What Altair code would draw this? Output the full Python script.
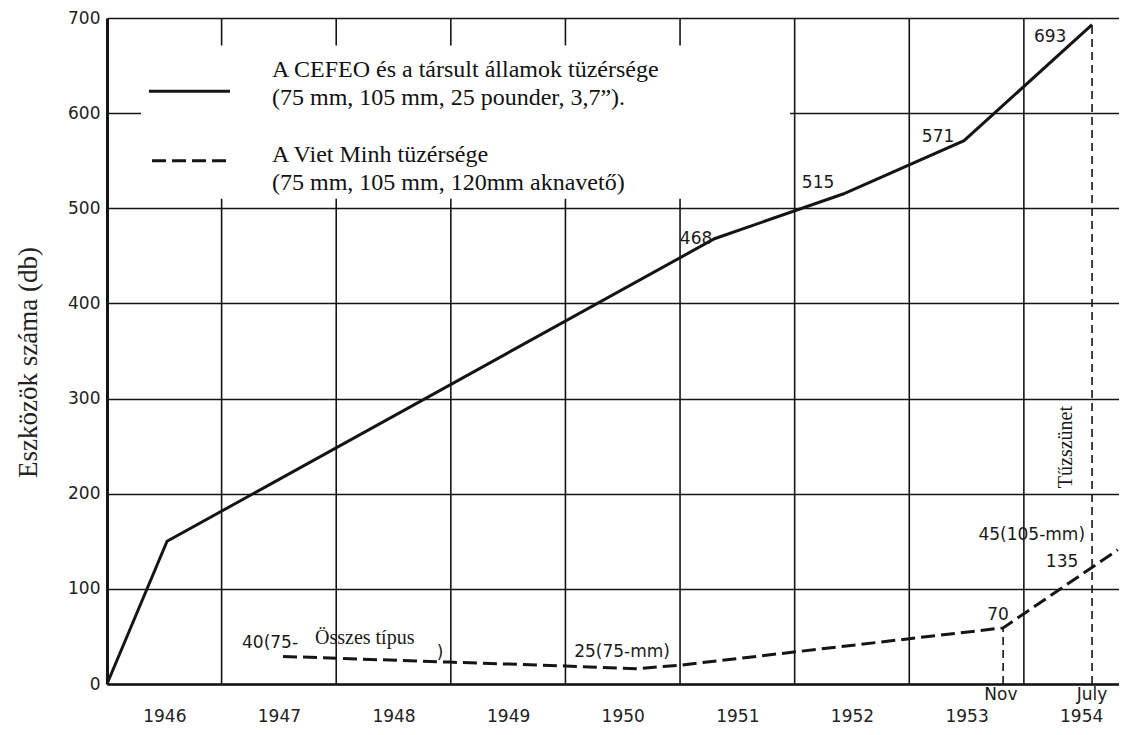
import altair as alt
import pandas as pd

# ---------------- data ----------------
years = [1946, 1947, 1948, 1949, 1950, 1951, 1952, 1953, 1954]
year_bounds = [1947, 1948, 1949, 1950, 1951, 1952, 1953, 1954]
y_ticks = [0, 100, 200, 300, 400, 500, 600, 700]

cefeo_x = [1946.0, 1946.524, 1951.30, 1952.422, 1953.478, 1954.595]
cefeo_y = [0, 150, 468, 515, 571, 693]

vm_x = [1947.536, 1948.984, 1949.997, 1950.625, 1951.017, 1953.819, 1954.82]
vm_y = [29, 23, 19, 16, 20, 59, 141]

# dashed reference verticals (Nov 1953, July 1954)
marker_x = [1953.819, 1954.595]
marker_top = [59, 693]

# annotations
sans_text = ["693", "571", "515", "468", "25(75-mm)", "70", "135", "Nov", "July", ")"]
sans_x = [1954.229, 1953.251, 1952.204, 1951.14, 1950.494, 1953.775, 1954.333, 1953.80, 1954.595, 1948.906]
sans_y = [680, 575, 527, 468, 34, 72, 128, -12, -12, 33]

left_sans_text = ["40(75-"]
left_sans_x = [1947.178]
left_sans_y = [43]

right_sans_text = ["45(105-mm)"]
right_sans_x = [1954.534]
right_sans_y = [157]

serif_note_text = ["Összes típus"]
serif_note_x = [1947.815]
serif_note_y = [48]

cease_text = ["Tűzszünet"]
cease_x = [1954.368]
cease_y = [249]

legend_text = [
    "A CEFEO és a társult államok tüzérsége",
    "(75 mm, 105 mm, 25 pounder, 3,7”).",
    "A Viet Minh tüzérsége",
    "(75 mm, 105 mm, 120mm aknavető)",
]
legend_text_x = [1947.44, 1947.44, 1947.44, 1947.44]
legend_text_y = [645, 616, 556, 527]

legend_solid_x = [1946.366, 1947.073]
legend_solid_y = [623, 623]
legend_dash_x = [1946.393, 1947.073]
legend_dash_y = [550, 550]

legend_box = {"x1": 1946.297, "x2": 1951.96, "y1": 510, "y2": 671}

# ---------------- styling ----------------
INK = "#151515"
SANS = "DejaVu Sans"
SERIF = "Liberation Serif"

XS = alt.Scale(domain=[1946, 1954.83], nice=False, zero=False)
YS = alt.Scale(domain=[0, 700], nice=False, zero=False)

XAX = alt.Axis(
    values=[y + 0.5 for y in years],
    labelExpr="floor(datum.value)",
    title=None,
    grid=False,
    ticks=False,
    domain=True,
    domainColor=INK,
    domainWidth=2.6,
    labelFont=SANS,
    labelFontSize=17,
    labelColor="#222",
    labelPadding=24,
)

YAX = alt.Axis(
    values=y_ticks,
    title="Eszközök száma (db)",
    titleFont=SERIF,
    titleFontSize=27,
    titleFontWeight="normal",
    titleColor="#222",
    titleAngle=270,
    titleAlign="center",
    titleBaseline="middle",
    titleX=-79,
    titleY=344,
    grid=True,
    gridColor=INK,
    gridWidth=1.6,
    gridOpacity=1,
    ticks=False,
    domain=True,
    domainColor=INK,
    domainWidth=3,
    labelFont=SANS,
    labelFontSize=17,
    labelColor="#222",
    labelPadding=7,
)


def xq(field="x"):
    return alt.X(f"{field}:Q", scale=XS, axis=XAX)


def yq(field="y"):
    return alt.Y(f"{field}:Q", scale=YS, axis=YAX)


# vertical year boundary lines
grid_df = pd.DataFrame({"x": year_bounds})
vgrid = alt.Chart(grid_df).mark_rule(color=INK, strokeWidth=1.6).encode(x=xq())

# white box behind the legend
box_df = pd.DataFrame([legend_box])
box = alt.Chart(box_df).mark_rect(color="white").encode(
    x=xq("x1"), x2="x2:Q", y=yq("y1"), y2="y2:Q"
)

# series
cefeo_df = pd.DataFrame({"x": cefeo_x, "y": cefeo_y})
cefeo = alt.Chart(cefeo_df).mark_line(color=INK, strokeWidth=3).encode(x=xq(), y=yq())

vm_df = pd.DataFrame({"x": vm_x, "y": vm_y})
vm = alt.Chart(vm_df).mark_line(color=INK, strokeWidth=3, strokeDash=[14, 6]).encode(
    x=xq(), y=yq()
)

marker_df = pd.DataFrame({"x": marker_x, "y0": [0, 0], "y1": marker_top})
markers = alt.Chart(marker_df).mark_rule(color=INK, strokeWidth=1.6, strokeDash=[8, 5]).encode(
    x=xq(), y=yq("y0"), y2="y1:Q"
)

# legend samples
leg_solid = alt.Chart(pd.DataFrame({"x": legend_solid_x, "y": legend_solid_y})).mark_line(
    color=INK, strokeWidth=3
).encode(x=xq(), y=yq())
leg_dash = alt.Chart(pd.DataFrame({"x": legend_dash_x, "y": legend_dash_y})).mark_line(
    color=INK, strokeWidth=3, strokeDash=[14, 6]
).encode(x=xq(), y=yq())

leg_text = alt.Chart(pd.DataFrame({"t": legend_text, "x": legend_text_x, "y": legend_text_y})).mark_text(
    font=SERIF, fontSize=24, align="left", baseline="middle", color="#111"
).encode(x=xq(), y=yq(), text="t:N")


def text_layer(texts, xs, ys, **kw):
    df = pd.DataFrame({"t": texts, "x": xs, "y": ys})
    return alt.Chart(df).mark_text(baseline="middle", color="#1a1a1a", **kw).encode(
        x=xq(), y=yq(), text="t:N"
    )


ann_c = text_layer(sans_text, sans_x, sans_y, font=SANS, fontSize=17, align="center")
ann_l = text_layer(left_sans_text, left_sans_x, left_sans_y, font=SANS, fontSize=17, align="left")
ann_r = text_layer(right_sans_text, right_sans_x, right_sans_y, font=SANS, fontSize=17, align="right")
ann_serif = text_layer(serif_note_text, serif_note_x, serif_note_y, font=SERIF, fontSize=20, align="left")
ann_cease = text_layer(cease_text, cease_x, cease_y, font=SERIF, fontSize=20, align="center", angle=270)

chart = (
    alt.layer(
        vgrid, box, cefeo, vm, markers, leg_solid, leg_dash, leg_text,
        ann_c, ann_l, ann_r, ann_serif, ann_cease,
    )
    .properties(
        width=1012,
        height=666,
        autosize=alt.AutoSizeParams(type="none"),
        padding={"left": 99, "top": 10, "right": 0, "bottom": 43},
        background="white",
    )
    .configure_view(stroke=None)
)

chart.save("out.html", embed_options={"renderer": "svg", "actions": False})
